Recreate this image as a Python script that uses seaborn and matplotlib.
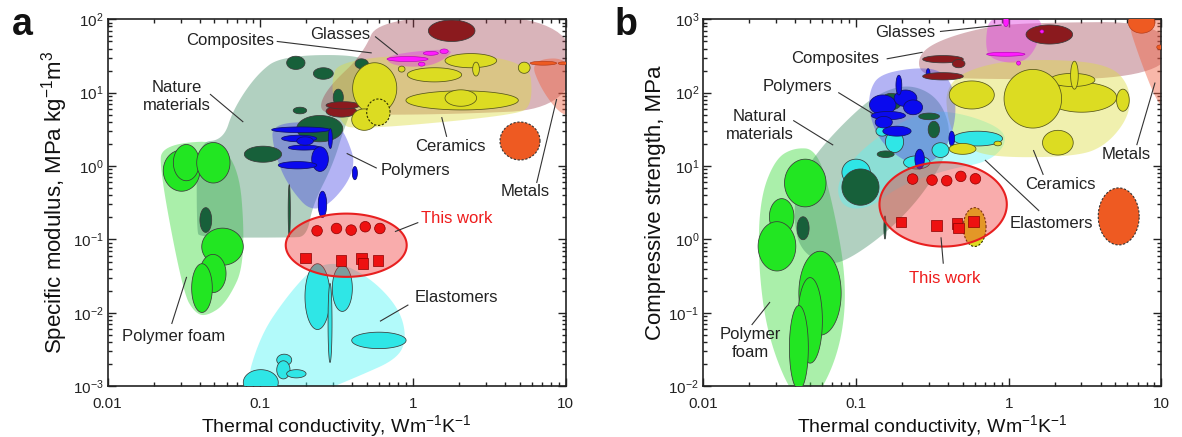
import numpy as np
import pandas as pd
import matplotlib
matplotlib.use("Agg")
import matplotlib.pyplot as plt
import seaborn as sns
from matplotlib.ticker import FixedLocator, FixedFormatter, LogLocator, NullFormatter

sns.set_theme(style="ticks")
plt.rcParams["font.family"] = ["Liberation Sans", "DejaVu Sans"]
plt.rcParams["mathtext.fontset"] = "custom"
plt.rcParams["mathtext.rm"] = "Liberation Sans"
plt.rcParams["mathtext.it"] = "Liberation Sans:italic"
plt.rcParams["mathtext.default"] = "regular"

# ---------------------------------------------------------------------------
# Data.  Material-class envelopes and property bubbles are given in decades:
# log10(thermal conductivity / W m-1 K-1) and log10(property).
# Bubbles are (x_lo, x_hi, y_lo, y_hi) ranges.
# ---------------------------------------------------------------------------

# (a) specific modulus, MPa kg-1 m3
A_FOAM_ENV = [(-1.646, 0.308), (-1.155, 0.352), (-1.090, -1.285), (-1.221, -1.869),
              (-1.352, -2.048), (-1.428, -2.004), (-1.505, -1.734), (-1.658, -0.073)]
A_NATURE_ENV = [(-0.861, 1.506), (-0.326, 1.519), (-0.295, 1.317), (-0.446, 0.554),
                (-0.525, 0.016), (-0.656, -0.523), (-0.697, -0.962), (-0.806, -0.975),
                (-1.396, -0.975), (-1.417, -0.881), (-1.417, 0.331), (-1.243, 0.352),
                (-1.177, 0.779), (-1.024, 1.250)]
A_POLY_ENV = [(-0.926, 0.600), (-0.523, 0.591), (-0.446, 0.465), (-0.359, -0.073),
              (-0.631, -0.711), (-0.828, -0.254), (-0.916, 0.240)]
A_COMP_ENV = [(-0.22, 2.05), (1.05, 2.05), (1.05, 0.78), (0.20, 0.70), (-0.55, 0.70),
              (-0.62, 0.80), (-0.55, 1.09), (-0.33, 1.52)]
A_CER_ENV = [(-0.479, 1.497), (0.755, 1.542), (0.788, 0.824), (0.656, 0.689),
             (-0.392, 0.487), (-0.479, 0.599), (-0.544, 1.093)]
A_METAL_ENV = [(0.766, 1.452), (1.05, 1.479), (1.05, 0.685), (0.96, 0.71), (0.832, 1.07)]
A_GLASS_ENV = [(-0.184, 1.519), (0.275, 1.614), (0.209, 1.452), (0.078, 1.344), (-0.151, 1.371)]
A_ELAST_ENV = [(-1.112, -3.1), (-1.003, -2.318), (-0.828, -1.779), (-0.653, -1.375),
               (-0.479, -1.308), (-0.261, -1.554), (-0.086, -1.958), (-0.042, -2.362),
               (-0.107, -2.631), (-0.348, -2.856), (-0.631, -3.1)]

A_FOAM_BUB = [(-1.636, -1.396, -0.343, 0.218), (-1.570, -1.400, -0.200, 0.294),
              (-1.417, -1.199, -0.231, 0.321), (-1.384, -1.112, -1.352, -0.846),
              (-1.396, -1.225, -1.725, -1.204), (-1.450, -1.315, -1.995, -1.331)]
A_NATURE_BUB = [(-0.828, -0.708, 1.317, 1.497), (-0.653, -0.523, 1.183, 1.340),
                (-0.380, -0.293, 1.327, 1.461), (-0.523, -0.457, 0.823, 1.048),
                (-0.785, -0.697, 0.712, 0.802), (-0.762, -0.461, 0.331, 0.689),
                (-1.105, -0.861, 0.052, 0.271), (-1.396, -1.319, -0.904, -0.567),
                (-0.818, -0.804, -0.962, -0.254)]
A_POLY_BUB = [(-0.926, -0.544, 0.456, 0.533), (-0.861, -0.631, 0.331, 0.420),
              (-0.817, -0.610, 0.218, 0.285), (-0.762, -0.653, 0.285, 0.398),
              (-0.664, -0.555, -0.073, 0.263), (-0.883, -0.631, -0.038, 0.061),
              (-0.398, -0.365, -0.186, -0.006), (-0.621, -0.566, -0.702, -0.343),
              (-0.555, -0.529, 0.240, 0.510)]
A_COMP_BUB = [(0.10, 0.405, 1.698, 1.99), (-0.374, -0.293, 1.039, 1.093),
              (-0.57, -0.37, 0.667, 0.824), (-0.57, -0.348, 0.779, 0.877)]
A_CER_BUB = [(-0.396, -0.107, 0.712, 1.408), (0.209, 0.547, 1.340, 1.533),
             (0.390, 0.434, 1.227, 1.416), (-0.038, 0.318, 1.147, 1.340),
             (-0.097, -0.053, 1.281, 1.362), (0.689, 0.766, 1.264, 1.416),
             (-0.047, 0.689, 0.765, 1.025), (0.209, 0.416, 0.815, 1.039),
             (-0.402, -0.238, 0.487, 0.779)]
A_CER_DOTTED = [(-0.304, -0.151, 0.554, 0.914)]
A_GLASS_BUB = [(-0.171, 0.098, 1.425, 1.492), (0.067, 0.165, 1.51, 1.564),
               (0.176, 0.230, 1.533, 1.596), (0.034, 0.078, 1.362, 1.416)]
A_METAL_BUB = [(0.766, 0.940, 1.375, 1.429), (0.95, 1.02, 1.38, 1.42)]
A_METAL_DOTTED = [(0.569, 0.831, 0.083, 0.600)]
A_ELAST_BUB = [(-0.708, -0.544, -2.228, -1.331), (-0.529, -0.398, -1.981, -1.352),
               (-0.557, -0.531, -2.677, -1.600), (-0.402, -0.046, -2.488, -2.264),
               (-1.112, -0.883, -3.125, -2.775), (-0.893, -0.795, -2.721, -2.564),
               (-0.893, -0.806, -2.901, -2.654), (-0.828, -0.701, -2.887, -2.775)]
A_WORK_RANGE = (-0.834, -0.042, -1.510, -0.648)

# (b) compressive strength, MPa
B_COMP_ENV = [(-0.592, 2.519), (-0.450, 2.721), (-0.144, 2.901), (0.161, 2.955),
              (1.05, 2.968), (1.05, 2.183), (-0.363, 2.183), (-0.581, 2.250)]
B_GLASS_ENV = [(-0.123, 3.08), (0.238, 3.08), (0.183, 2.587), (0.074, 2.385),
               (-0.123, 2.452), (-0.155, 2.676)]
B_CER_ENV = [(-0.417, 2.138), (-0.144, 2.407), (0.270, 2.461), (0.663, 2.385),
             (0.794, 2.093), (0.794, 1.689), (0.642, 1.285), (0.445, 1.128),
             (-0.101, 1.115), (-0.297, 1.263), (-0.396, 1.555)]
B_METAL_ENV = [(0.762, 3.08), (1.05, 3.08), (1.05, 1.779), (0.981, 1.824), (0.860, 2.452)]
B_POLY_ENV = [(-0.843, 2.250), (-0.625, 2.340), (-0.450, 2.317), (-0.363, 2.093),
              (-0.341, 1.689), (-0.396, 1.285), (-0.516, 1.016), (-0.669, 1.039),
              (-0.843, 1.330), (-0.919, 1.734), (-0.908, 2.048)]
B_NATURE_ENV = [(-1.394, 0.735), (-1.257, 1.184), (-1.059, 1.632), (-0.861, 1.991),
                (-0.639, 2.126), (-0.441, 1.901), (-0.366, 1.363), (-0.515, 0.735),
                (-0.762, 0.152), (-1.059, -0.296), (-1.208, -0.341), (-1.356, -0.161),
                (-1.406, 0.197)]
B_ELAST_ENV = [(-1.134, 0.735), (-1.010, 1.139), (-0.762, 1.543), (-0.515, 1.767),
               (-0.267, 1.700), (-0.032, 1.498), (-0.020, 1.274), (-0.144, 1.049),
               (-0.391, 0.960), (-0.713, 0.735), (-0.911, 0.422), (-1.084, 0.422)]
B_FOAM_ENV = [(-1.406, 1.251), (-1.257, 1.229), (-1.158, 0.556), (-1.059, -0.565),
              (-1.097, -1.462), (-1.257, -2.2), (-1.406, -2.2), (-1.579, -1.327),
              (-1.641, -0.341), (-1.629, 0.556), (-1.530, 1.094)]

B_FOAM_BUB = [(-1.468, -1.196, 0.444, 1.094), (-1.567, -1.406, 0.063, 0.556),
              (-1.641, -1.394, -0.430, 0.242), (-1.374, -1.097, -1.305, -0.161),
              (-1.381, -1.220, -1.686, -0.520), (-1.436, -1.312, -2.05, -0.901)]
B_ELAST_BUB = [(-1.092, -0.906, 0.735, 1.094), (-0.366, -0.040, 1.274, 1.475),
               (-0.502, -0.391, 1.117, 1.318), (-0.807, -0.688, 1.184, 1.475),
               (-0.688, -0.515, 0.960, 1.139), (-0.869, -0.787, 1.408, 1.543)]
B_NATURE_BUB = [(-1.092, -0.849, 0.466, 0.960), (-1.386, -1.307, -0.004, 0.309),
                (-0.817, -0.803, 0.006, 0.320), (-0.837, -0.700, 1.767, 1.991),
                (-0.589, -0.453, 1.632, 1.722), (-0.527, -0.453, 1.386, 1.610),
                (-0.861, -0.750, 1.117, 1.206)]
B_POLY_BUB = [(-0.911, -0.738, 1.700, 1.969), (-0.750, -0.601, 1.812, 2.036),
              (-0.899, -0.676, 1.632, 1.744), (-0.688, -0.564, 1.700, 1.901),
              (-0.738, -0.700, 1.969, 2.238), (-0.874, -0.762, 1.520, 1.677),
              (-0.824, -0.639, 1.408, 1.543), (-0.614, -0.552, 0.960, 1.229),
              (-0.391, -0.354, 1.274, 1.475), (-0.540, -0.515, 2.193, 2.327)]
B_COMP_BUB = [(0.114, 0.419, 2.663, 2.923), (-0.563, -0.297, 2.407, 2.506),
              (-0.369, -0.286, 2.340, 2.452), (-0.563, -0.297, 2.174, 2.273)]
B_GLASS_BUB = [(-0.144, 0.107, 2.497, 2.551), (0.052, 0.078, 2.375, 2.430),
               (0.205, 0.231, 2.811, 2.856), (-0.035, 0.0, 2.9, 3.05)]
B_CER_BUB = [(0.249, 0.707, 1.734, 2.138), (0.271, 0.565, 2.084, 2.263),
             (0.406, 0.456, 2.048, 2.429), (-0.030, 0.347, 1.518, 2.317),
             (-0.389, -0.094, 1.778, 2.160), (0.707, 0.790, 1.747, 2.048),
             (0.222, 0.423, 1.150, 1.487), (-0.389, -0.214, 1.160, 1.308),
             (-0.096, -0.046, 1.276, 1.339)]
B_CER_DOTTED = [(-0.297, -0.148, -0.096, 0.433)]
B_METAL_BUB = [(0.784, 0.958, 2.811, 3.1), (0.97, 1.01, 2.59, 2.65)]
B_METAL_DOTTED = [(0.587, 0.855, -0.075, 0.702)]
B_WORK_RANGE = (-0.846, -0.012, -0.097, 1.052)

# This work: thermal conductivity (W m-1 K-1) with specific modulus and strength
SPHERE_K = [0.235, 0.315, 0.393, 0.486, 0.606]
SPHERE_MODULUS = [0.131, 0.141, 0.134, 0.149, 0.141]
SPHERE_STRENGTH = [6.65, 6.44, 6.31, 7.23, 6.71]
CUBE_K = [0.197, 0.338, 0.458, 0.471, 0.590]
CUBE_MODULUS = [0.0562, 0.0519, 0.0546, 0.0467, 0.0519]
CUBE_STRENGTH = [1.73, 1.56, 1.64, 1.43, 1.75]

# Class labels: text, text position and leader line (decades)
A_LABELS = [
    ("Composites", (-1.198, 1.712), [(-0.893, 1.699), (-0.271, 1.542)], "#222222"),
    ("Glasses", (-0.479, 1.789), [(-0.249, 1.766), (-0.101, 1.519)], "#222222"),
    ("Nature\nmaterials", (-1.548, 0.950), [(-1.330, 0.981), (-1.112, 0.600)], "#222222"),
    ("Ceramics", (0.242, 0.263), [(0.220, 0.398), (0.187, 0.667)], "#222222"),
    ("Polymers", (0.012, -0.065), [(-0.238, -0.029), (-0.435, 0.173)], "#222222"),
    ("Metals", (0.733, -0.343), [(0.809, -0.231), (0.940, 0.914)], "#222222"),
    ("This work", (0.286, -0.711), [(0.034, -0.769), (-0.119, -0.894)], "#ee1c1c"),
    ("Elastomers", (0.281, -1.788), [(-0.031, -1.891), (-0.217, -2.116)], "#222222"),
    ("Polymer foam", (-1.570, -2.318), [(-1.581, -2.152), (-1.483, -1.510)], "#222222"),
]
B_LABELS = [
    ("Glasses", (-0.679, 2.820), [(-0.450, 2.834), (-0.046, 2.923)], "#222222"),
    ("Composites", (-1.137, 2.461), [(-0.799, 2.461), (-0.563, 2.551)], "#222222"),
    ("Polymers", (-1.382, 2.080), [(-1.116, 2.003), (-0.887, 1.711)], "#222222"),
    ("Natural\nmaterials", (-1.629, 1.555), [(-1.411, 1.622), (-1.149, 1.285)], "#222222"),
    ("Metals", (0.773, 1.159), [(0.839, 1.285), (0.959, 2.138)], "#222222"),
    ("Ceramics", (0.336, 0.747), [(0.227, 0.880), (0.162, 1.218)], "#222222"),
    ("Elastomers", (0.283, 0.217), [(0.200, 0.388), (-0.155, 1.083)], "#222222"),
    ("This work", (-0.417, -0.538), [(-0.428, -0.331), (-0.443, 0.029)], "#ee1c1c"),
    ("Polymer\nfoam", (-1.694, -1.412), [(-1.683, -1.166), (-1.563, -0.853)], "#222222"),
]

# Colours
FOAM_C, NATURE_C, POLY_C = "#44dd44", "#3d8a63", "#4a4ae6"
COMP_C, CER_C, METAL_C = "#9c3a4a", "#dddd40", "#f06040"
GLASS_C, ELAST_C = "#e040e0", "#55f5f5"
EDGE = "#3a3a3a"


def smooth_loop(pts, rounds=4):
    p = np.asarray(pts, float)
    for _ in range(rounds):
        nxt = np.roll(p, -1, axis=0)
        q = 0.75 * p + 0.25 * nxt
        r = 0.25 * p + 0.75 * nxt
        p = np.empty((2 * len(q), 2))
        p[0::2], p[1::2] = q, r
    return p


def draw_region(ax, pts, color, alpha, z=1):
    p = smooth_loop(pts)
    ax.fill(10 ** p[:, 0], 10 ** p[:, 1], color=color, alpha=alpha, lw=0, zorder=z)


T = np.linspace(0, 2 * np.pi, 180)


def draw_bubbles(ax, boxes, face, edge=EDGE, lw=0.55, ls="-", z=3):
    for x0, x1, y0, y1 in boxes:
        cx, cy, rx, ry = (x0 + x1) / 2, (y0 + y1) / 2, (x1 - x0) / 2, (y1 - y0) / 2
        ax.fill(10 ** (cx + rx * np.cos(T)), 10 ** (cy + ry * np.sin(T)),
                facecolor=face, edgecolor=edge, lw=lw, ls=ls, zorder=z)


def draw_work(ax, rng):
    x0, x1, y0, y1 = rng
    cx, cy, rx, ry = (x0 + x1) / 2, (y0 + y1) / 2, (x1 - x0) / 2, (y1 - y0) / 2
    ax.fill(10 ** (cx + rx * np.cos(T)), 10 ** (cy + ry * np.sin(T)),
            facecolor=(0.94, 0.19, 0.19, 0.40), edgecolor="#e82020", lw=1.5, zorder=6)


def draw_labels(ax, labels):
    for text, (tx, ty), line, col in labels:
        (ax0, ay0), (ax1, ay1) = line
        ax.plot([10 ** ax0, 10 ** ax1], [10 ** ay0, 10 ** ay1], color="#333333",
                lw=0.8, zorder=12, solid_capstyle="butt")
        ax.text(10 ** tx, 10 ** ty, text, color=col, fontsize=12, ha="center",
                va="center", linespacing=1.25, zorder=13)


def style_axes(ax, ylo, yhi, ylabel):
    ax.set_xscale("log")
    ax.set_yscale("log")
    ax.set_xlim(0.01, 10)
    ax.set_ylim(ylo, yhi)
    ax.xaxis.set_major_locator(FixedLocator([0.01, 0.1, 1, 10]))
    ax.xaxis.set_major_formatter(FixedFormatter(["0.01", "0.1", "1", "10"]))
    ax.xaxis.set_minor_locator(LogLocator(base=10, subs=np.arange(2, 10), numticks=20))
    ax.xaxis.set_minor_formatter(NullFormatter())
    ax.yaxis.set_major_locator(LogLocator(base=10, numticks=10))
    ax.yaxis.set_minor_locator(LogLocator(base=10, subs=np.arange(2, 10), numticks=20))
    ax.yaxis.set_minor_formatter(NullFormatter())
    ax.tick_params(which="both", direction="in", top=True, right=True,
                   colors="#222222", labelsize=11, width=1.0)
    ax.tick_params(which="major", length=6)
    ax.tick_params(axis="y", which="major", pad=3)
    ax.tick_params(axis="x", which="major", pad=8)
    ax.tick_params(which="minor", length=3)
    for s in ax.spines.values():
        s.set_linewidth(1.2)
        s.set_color("#222222")
    ax.set_xlabel("Thermal conductivity, Wm$^{-1}$K$^{-1}$", fontsize=14,
                  color="#111111", labelpad=1)
    ax.set_ylabel(ylabel, fontsize=16, color="#111111", labelpad=2)


fig = plt.figure(figsize=(11.82, 4.37), dpi=100)
ax_a = fig.add_axes([0.0911, 0.1163, 0.3876, 0.8395])
ax_b = fig.add_axes([0.5950, 0.1163, 0.3875, 0.8395])
for ax in (ax_a, ax_b):
    ax.set_xscale("log")
    ax.set_yscale("log")

# ---- panel a ----
draw_region(ax_a, A_ELAST_ENV, ELAST_C, 0.45)
draw_region(ax_a, A_FOAM_ENV, FOAM_C, 0.45)
draw_region(ax_a, A_NATURE_ENV, NATURE_C, 0.40)
draw_region(ax_a, A_COMP_ENV, COMP_C, 0.38)
draw_region(ax_a, A_CER_ENV, CER_C, 0.42)
draw_region(ax_a, A_METAL_ENV, METAL_C, 0.45)
draw_region(ax_a, A_POLY_ENV, POLY_C, 0.42)
draw_region(ax_a, A_GLASS_ENV, GLASS_C, 0.45)

draw_bubbles(ax_a, A_ELAST_BUB, "#2fe6e6")
draw_bubbles(ax_a, A_FOAM_BUB, "#22e622")
draw_bubbles(ax_a, A_NATURE_BUB, "#17603a")
draw_bubbles(ax_a, A_POLY_BUB, "#0a0aee", edge="#10106a")
draw_bubbles(ax_a, A_COMP_BUB, "#8b1a1e")
draw_bubbles(ax_a, A_CER_BUB, "#dcdc22", edge="#55551a")
draw_bubbles(ax_a, A_CER_DOTTED, "#dcdc22", edge="#333300", ls=(0, (2, 1.5)), lw=0.8)
draw_bubbles(ax_a, A_GLASS_BUB, "#ff1aff", edge="#aa00aa", lw=0.4)
draw_bubbles(ax_a, A_METAL_BUB, "#ee5a22", edge="#aa3311", lw=0.4)
draw_bubbles(ax_a, A_METAL_DOTTED, "#ee5a22", edge="#333333", ls=(0, (2, 1.5)), lw=0.8)
draw_work(ax_a, A_WORK_RANGE)

# ---- panel b ----
draw_region(ax_b, B_FOAM_ENV, FOAM_C, 0.45)
draw_region(ax_b, B_NATURE_ENV, NATURE_C, 0.40)
draw_region(ax_b, B_ELAST_ENV, ELAST_C, 0.40)
draw_region(ax_b, B_COMP_ENV, COMP_C, 0.38)
draw_region(ax_b, B_CER_ENV, CER_C, 0.42)
draw_region(ax_b, B_METAL_ENV, METAL_C, 0.45)
draw_region(ax_b, B_POLY_ENV, POLY_C, 0.42)
draw_region(ax_b, B_GLASS_ENV, GLASS_C, 0.45)

draw_bubbles(ax_b, B_FOAM_BUB, "#22e622")
draw_bubbles(ax_b, B_ELAST_BUB, "#2fe6e6")
draw_bubbles(ax_b, B_NATURE_BUB, "#17603a")
draw_bubbles(ax_b, B_POLY_BUB, "#0a0aee", edge="#10106a")
draw_bubbles(ax_b, B_COMP_BUB, "#8b1a1e")
draw_bubbles(ax_b, B_CER_BUB, "#dcdc22", edge="#55551a")
draw_bubbles(ax_b, B_CER_DOTTED, "#dcdc22", edge="#333300", ls=(0, (2, 1.5)), lw=0.8)
draw_bubbles(ax_b, B_GLASS_BUB, "#ff1aff", edge="#aa00aa", lw=0.4)
draw_bubbles(ax_b, B_METAL_BUB, "#ee5a22", edge="#aa3311", lw=0.4)
draw_bubbles(ax_b, B_METAL_DOTTED, "#ee5a22", edge="#333333", ls=(0, (2, 1.5)), lw=0.8)
draw_work(ax_b, B_WORK_RANGE)

# ---- this work: spheres and cubes ----
work = pd.DataFrame({
    "k": SPHERE_K + CUBE_K,
    "modulus": SPHERE_MODULUS + CUBE_MODULUS,
    "strength": SPHERE_STRENGTH + CUBE_STRENGTH,
    "shape": ["sphere"] * len(SPHERE_K) + ["cube"] * len(CUBE_K),
})
for ax, col in ((ax_a, "modulus"), (ax_b, "strength")):
    sns.scatterplot(data=work, x="k", y=col, style="shape",
                    markers={"sphere": "o", "cube": "s"}, color="#ee1111",
                    s=58, edgecolor="#8a0000", linewidth=0.5, legend=False,
                    ax=ax, zorder=10)

draw_labels(ax_a, A_LABELS)
draw_labels(ax_b, B_LABELS)

style_axes(ax_a, 1e-3, 1e2, "Specific modulus, MPa kg$^{-1}$m$^{3}$")
style_axes(ax_b, 1e-2, 1e3, "Compressive strength, MPa")

fig.text(0.010, 0.920, "a", fontsize=27, fontweight="bold", color="#111111", va="baseline")
fig.text(0.520, 0.920, "b", fontsize=27, fontweight="bold", color="#111111", va="baseline")

fig.savefig("out.png", dpi=100)
